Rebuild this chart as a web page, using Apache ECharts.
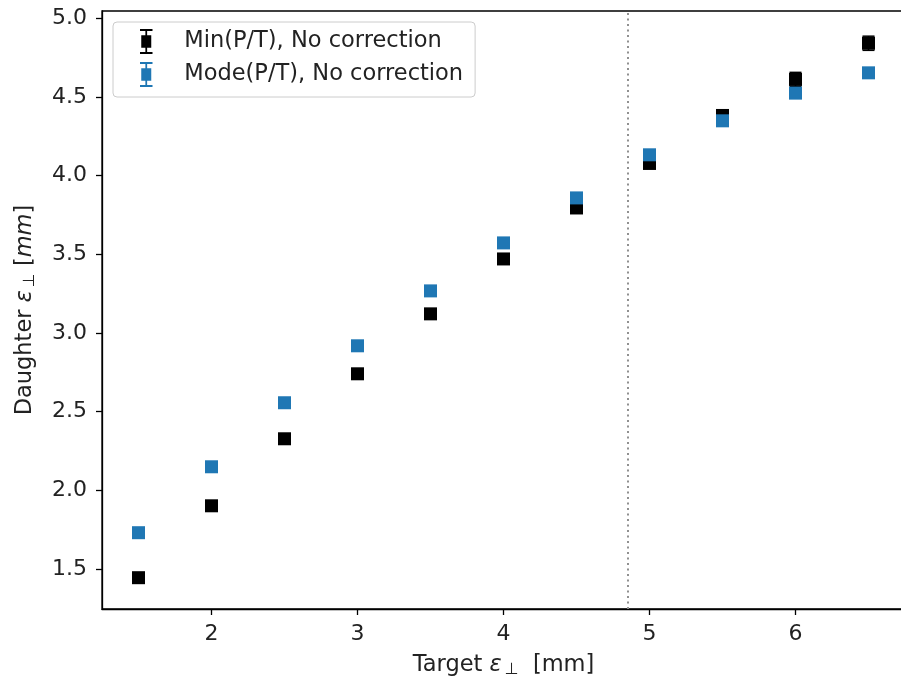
<!DOCTYPE html>
<html>
<head>
<meta charset="utf-8">
<script src="https://cdn.jsdelivr.net/npm/echarts@6/dist/echarts.min.js"></script>
<style>
  html, body { margin: 0; padding: 0; background: #fff; }
  #main { width: 901px; height: 683px; }
</style>
</head>
<body>
<div id="main"></div>
<script>
// target emittance (x) values
const targetVals = [1.5, 2.0, 2.5, 3.0, 3.5, 4.0, 4.5, 5.0, 5.5, 6.0, 6.5];
// Min(P/T), no correction
const minVals = [1.445, 1.902, 2.328, 2.741, 3.122, 3.471, 3.795, 4.078, 4.383, 4.612, 4.842];
const minErr  = [0.02, 0.02, 0.02, 0.02, 0.02, 0.02, 0.02, 0.02, 0.03, 0.045, 0.045];
// Mode(P/T), no correction
const modeVals = [1.731, 2.150, 2.557, 2.919, 3.268, 3.573, 3.859, 4.133, 4.349, 4.525, 4.654];
const modeErr  = [0.02, 0.02, 0.02, 0.02, 0.02, 0.02, 0.02, 0.02, 0.02, 0.02, 0.02];
// tick labels
const xTicks = [2, 3, 4, 5, 6];
const yTicks = [1.5, 2.0, 2.5, 3.0, 3.5, 4.0, 4.5, 5.0];
// dotted separator
const cutX = 4.85;

const FONT = 'DejaVu Sans';
const TXT = '#222';
const FS = 22.5;
// legend icon: errorbar with caps + square marker
const errIcon = 'path://M0,0L10,0L10,1.6L5.7,1.6L5.7,5L9,5L9,15L5.7,15L5.7,18.4L10,18.4L10,20L0,20L0,18.4L4.3,18.4L4.3,15L1,15L1,5L4.3,5L4.3,1.6L0,1.6Z';

let chart = echarts.init(document.getElementById('main'), null, { renderer: 'canvas' });

function pairs(ys, errs) {
  return targetVals.map((x, i) => [x, ys[i], errs[i]]);
}

//误差棒
function errRender(color) {
  return function (params, api) {
    let x = api.value(0), y = api.value(1), e = api.value(2);
    let lo = api.coord([x, y - e]);
    let hi = api.coord([x, y + e]);
    let cap = 6;
    let st = { stroke: color, lineWidth: 1.5 };
    return {
      type: 'group',
      children: [
        { type: 'line', shape: { x1: lo[0], y1: lo[1], x2: hi[0], y2: hi[1] }, style: st },
        { type: 'line', shape: { x1: lo[0] - cap, y1: lo[1], x2: lo[0] + cap, y2: lo[1] }, style: st },
        { type: 'line', shape: { x1: hi[0] - cap, y1: hi[1], x2: hi[0] + cap, y2: hi[1] }, style: st }
      ]
    };
  };
}

const axisNameRich = {
  e: { fontFamily: FONT, fontStyle: 'italic', fontSize: FS, color: TXT, padding: [0, 3, 0, 0] },
  s: { fontFamily: FONT, fontSize: 16, color: TXT, padding: [10, 0, 0, 0] },
  i: { fontFamily: FONT, fontStyle: 'italic', fontSize: FS, color: TXT }
};

let option = {
  backgroundColor: '#ffffff',
  animation: false,
  grid: {
    left: 102, top: 11, width: 803, height: 598,
    show: true, borderColor: '#000', borderWidth: 1.3,
    containLabel: false, outerBoundsMode: 'none'
  },
  legend: {
    left: 113, top: 22,
    orient: 'vertical',
    data: [
      { name: 'Min(P/T), No correction', icon: errIcon, itemStyle: { color: '#000' } },
      { name: 'Mode(P/T), No correction', icon: errIcon, itemStyle: { color: '#1f77b4' } }
    ],
    itemWidth: 40, itemHeight: 25, itemGap: 8,
    padding: [7, 12, 10, 27],
    borderColor: '#cccccc', borderWidth: 1, borderRadius: 4,
    backgroundColor: 'rgba(255,255,255,0.8)',
    textStyle: { fontFamily: FONT, fontSize: FS, color: TXT, padding: [0, 0, 0, 13] },
    selectedMode: false
  },
  xAxis: {
    type: 'value', min: 1.25, max: 6.75,
    splitLine: { show: false },
    axisLine: { onZero: false, lineStyle: { color: '#000', width: 1.3 } },
    axisTick: { customValues: xTicks, length: 6, lineStyle: { color: '#000', width: 1.3 } },
    axisLabel: { customValues: xTicks, margin: 14, fontFamily: FONT, fontSize: 22, color: TXT },
    name: 'Target {e|ε}{s|⊥}  [mm]',
    nameLocation: 'middle', nameGap: 43,
    nameTextStyle: { fontFamily: FONT, fontSize: FS, color: TXT, rich: axisNameRich }
  },
  yAxis: {
    type: 'value', min: 1.246, max: 5.047,
    splitLine: { show: false },
    axisLine: { onZero: false, lineStyle: { color: '#000', width: 1.3 } },
    axisTick: { customValues: yTicks, length: 6, lineStyle: { color: '#000', width: 1.3 } },
    axisLabel: {
      customValues: yTicks, margin: 15, fontFamily: FONT, fontSize: 22, color: TXT,
      formatter: v => v.toFixed(1)
    },
    name: 'Daughter {e|ε}{s|⊥} [{i|mm}]',
    nameLocation: 'middle', nameGap: 64, nameRotate: 90,
    nameTextStyle: { fontFamily: FONT, fontSize: FS, color: TXT, rich: axisNameRich }
  },
  series: [
    {
      name: 'minErr', type: 'custom', z: 2,
      renderItem: errRender('#000'),
      data: pairs(minVals, minErr),
      markLine: {
        silent: true, symbol: 'none', label: { show: false },
        lineStyle: { color: '#909090', type: [2, 3.5], width: 2 },
        data: [{ xAxis: cutX }]
      }
    },
    {
      name: 'Min(P/T), No correction', type: 'scatter', z: 3,
      symbol: 'rect', symbolSize: 13,
      itemStyle: { color: '#000', opacity: 1 },
      data: targetVals.map((x, i) => [x, minVals[i]])
    },
    {
      name: 'modeErr', type: 'custom', z: 4,
      renderItem: errRender('#1f77b4'),
      data: pairs(modeVals, modeErr)
    },
    {
      name: 'Mode(P/T), No correction', type: 'scatter', z: 5,
      symbol: 'rect', symbolSize: 13,
      itemStyle: { color: '#1f77b4', opacity: 1 },
      data: targetVals.map((x, i) => [x, modeVals[i]])
    }
  ]
};

chart.setOption(option);
</script>
</body>
</html>
